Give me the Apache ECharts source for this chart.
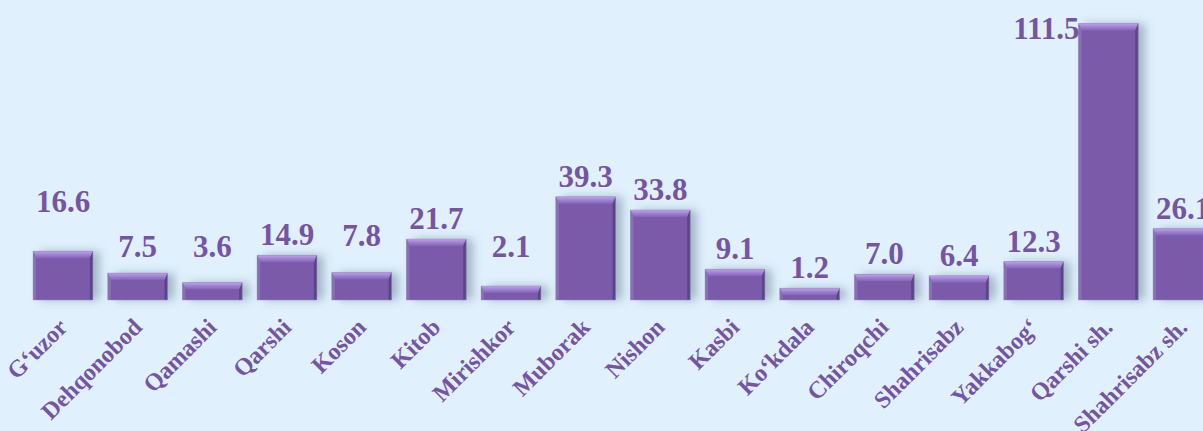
<!DOCTYPE html>
<html>
<head>
<meta charset="utf-8">
<script src="https://cdn.jsdelivr.net/npm/echarts@6/dist/echarts.min.js"></script>
<style>
  html, body { margin: 0; padding: 0; background: #e0f1fd; }
  #chart { width: 1203px; height: 431px; }
</style>
</head>
<body>
<div id="chart"></div>
<script>
// Districts and cities of Qashqadaryo region
const districts = [
  'G\u2018uzor', 'Dehqonobod', 'Qamashi', 'Qarshi', 'Koson', 'Kitob',
  'Mirishkor', 'Muborak', 'Nishon', 'Kasbi', 'Ko\u2018kdala', 'Chiroqchi',
  'Shahrisabz', 'Yakkabog\u2018', 'Qarshi sh.', 'Shahrisabz sh.'
];
const values = [16.6, 7.5, 3.6, 14.9, 7.8, 21.7, 2.1, 39.3, 33.8, 9.1, 1.2, 7.0, 6.4, 12.3, 111.5, 26.1];

// Value axis range; bars rise from the bottom of the axis
const AXIS_MIN = -3.7;
const AXIS_MAX = 113;

const TEXT_COLOR = '#7654a4';
const FONT = '"Liberation Serif", "Times New Roman", serif';
const VALUE_FONT_SIZE = 31;

// Extra lift of a value label above its bar (text baseline to bar top)
const labelLift = { 0: 39, 1: 16, 2: 25, 4: 26, 6: 29 };
const DEFAULT_LIFT = 10;
// distance from the text baseline down to the bottom of its line box
const DESCENT = Math.round(VALUE_FONT_SIZE * 0.16);

function renderItem(params, api) {
  const i = api.value(0);
  const v = api.value(1);
  const topPt = api.coord([i, v]);
  const basePt = api.coord([i, AXIS_MIN]);
  const w = api.size([1, 0])[0] * 0.8;
  const cx = topPt[0];
  const x0 = cx - w / 2, x1 = cx + w / 2;
  const y0 = topPt[1], y1 = basePt[1];
  const b = 7, s = 3;

  const children = [
    {
      type: 'rect',
      shape: { x: x0, y: y0, width: w, height: y1 - y0 },
      style: {
        fill: '#7a5aa9',
        shadowBlur: 10,
        shadowOffsetX: 7,
        shadowOffsetY: 0,
        shadowColor: 'rgba(60,85,115,0.38)'
      }
    },
    {
      type: 'polygon',
      shape: { points: [[x0, y0], [x1, y0], [x1 - s, y0 + b], [x0 + s, y0 + b]] },
      style: {
        fill: new echarts.graphic.LinearGradient(0, 0, 0, 1, [
          { offset: 0, color: '#bfa2ec' },
          { offset: 0.5, color: '#9f80d2' },
          { offset: 1, color: '#8264b6' }
        ])
      }
    },
    {
      type: 'polygon',
      shape: { points: [[x1, y0], [x1, y1], [x1 - s, y1], [x1 - s, y0 + b]] },
      style: { fill: '#5c4488' }
    },
    {
      type: 'polygon',
      shape: { points: [[x0, y0], [x0 + s, y0 + b], [x0 + s, y1], [x0, y1]] },
      style: { fill: '#8a6fb6' }
    },
    {
      type: 'rect',
      shape: { x: x0, y: y0, width: w, height: y1 - y0 },
      style: { fill: 'none', stroke: 'rgba(150,150,175,0.6)', lineWidth: 0.8 }
    }
  ];

  // Value label
  const txt = v.toFixed(1);
  let lx = cx, baseline, align = 'center';
  if (v === Math.max.apply(null, values)) {
    // tallest bar: label tucked to the left of its top edge
    lx = x0 + 1;
    baseline = y0 + 15;
    align = 'right';
  } else {
    baseline = y0 - (labelLift[i] != null ? labelLift[i] : DEFAULT_LIFT);
  }
  children.push({
    type: 'text',
    style: {
      text: txt,
      x: lx,
      y: baseline + DESCENT,
      align: align,
      verticalAlign: 'bottom',
      fill: TEXT_COLOR,
      font: 'bold ' + VALUE_FONT_SIZE + 'px ' + FONT
    },
    z2: 10
  });

  return { type: 'group', children: children };
}

const chart = echarts.init(document.getElementById('chart'), null, { renderer: 'svg' });
chart.setOption({
  backgroundColor: '#e0f1fd',
  animation: false,
  grid: {
    left: 25.67,
    top: 20,
    width: 1194.7,
    height: 280,
    containLabel: false,
    outerBoundsMode: 'none'
  },
  xAxis: {
    type: 'category',
    data: districts,
    axisLine: { show: false },
    axisTick: { show: false },
    splitLine: { show: false },
    axisLabel: {
      interval: 0,
      rotate: 45,
      margin: 23,
      color: TEXT_COLOR,
      fontFamily: FONT,
      fontWeight: 'bold',
      fontSize: 24
    }
  },
  yAxis: {
    type: 'value',
    min: AXIS_MIN,
    max: AXIS_MAX,
    show: false,
    splitLine: { show: false }
  },
  series: [{
    type: 'custom',
    renderItem: renderItem,
    encode: { x: 0, y: 1 },
    data: values.map(function (v, i) { return [i, v]; }),
    clip: false
  }]
});
</script>
</body>
</html>
